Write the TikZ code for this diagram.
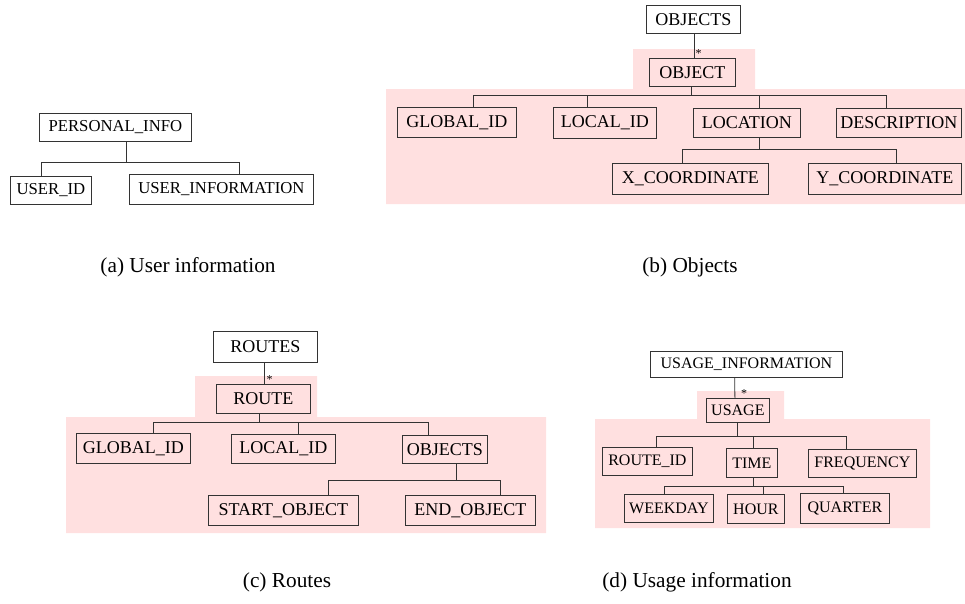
\documentclass[tikz,border=0pt]{standalone}
\usepackage{fontspec}
\setmainfont{Liberation Serif}
\usetikzlibrary{positioning}
\definecolor{schemapink}{RGB}{255,224,224}
\begin{document}
\begin{tikzpicture}[x=1pt,y=-1pt]
\tikzset{
  elem/.style={draw=black!80, line width=0.8pt, inner sep=1pt, anchor=north west},
  link/.style={draw=black!80, line width=0.8pt},
  fa/.style={font=\fontsize{16.7}{18}\selectfont},
  fb/.style={font=\fontsize{18}{20}\selectfont},
  fd/.style={font=\fontsize{16}{18}\selectfont},
  star/.style={font=\fontsize{12}{12}\selectfont, inner sep=0pt},
  caption/.style={font=\fontsize{21.3}{23}\selectfont}
}
\useasboundingbox (0,0) rectangle (965,603);
% pink groups
\fill[schemapink] (633,49) rectangle (755,90) (386,89) rectangle (965,204);
\fill[schemapink] (195,376) rectangle (317,417) (66,417) rectangle (546,533);
\fill[schemapink] (697,391) rectangle (784,420) (595,419) rectangle (930,528);

% (a) user information
\node[elem,fa,minimum width=152,minimum height=28] (pinfo) at (39,113) {PERSONAL\_INFO};
\node[elem,fa,minimum width=81,minimum height=28] (uid) at (10,176) {USER\_ID};
\node[elem,fa,minimum width=184,minimum height=30] (uinfo) at (129,174) {USER\_INFORMATION};
\coordinate (abus) at (0,162);
\draw[link] ([xshift=11]pinfo.south) -- ([xshift=11]pinfo.south |- abus);
\draw[link] ([xshift=-10]uid.north) |- ([xshift=18]uinfo.north |- abus) -- ([xshift=18]uinfo.north);
\node[caption] (capa) at (188,267) {(a) User information};

% (b) objects
\node[elem,fb,minimum width=94,minimum height=28] (objs) at (646,5) {OBJECTS};
\node[elem,fb,minimum width=86,minimum height=28] (obj) at (649,58) {OBJECT};
\draw[link] ([xshift=1]objs.south) -- ([xshift=2]obj.north);
\node[star,anchor=south west] at ([xshift=3]obj.north) {*};
\node[elem,fb,minimum width=119,minimum height=30] (gid) at (397,107) {GLOBAL\_ID};
\node[elem,fb,minimum width=103,minimum height=31] (lid) at (553,107) {LOCAL\_ID};
\node[elem,fb,minimum width=107,minimum height=29] (loc) at (693,108) {LOCATION};
\node[elem,fb,minimum width=125,minimum height=29] (desc) at (836,108) {DESCRIPTION};
\node[elem,fb,minimum width=156,minimum height=31] (xco) at (612,163) {X\_COORDINATE};
\node[elem,fb,minimum width=153,minimum height=31] (yco) at (808,163) {Y\_COORDINATE};
\coordinate (bbus) at (0,95);
\coordinate (lbus) at (0,149);
\draw[link] ([xshift=-1]obj.south) -- ([xshift=-1]obj.south |- bbus);
\draw[link] ([xshift=16.5]gid.north) |- ([xshift=-12.5]desc.north |- bbus) -- ([xshift=-12.5]desc.north);
\draw[link] ([xshift=-18]lid.north) -- ([xshift=-18]lid.north |- bbus);
\draw[link] ([xshift=12.5]loc.north) -- ([xshift=12.5]loc.north |- bbus);
\draw[link] ([xshift=12.5]loc.south) -- ([xshift=12.5]loc.south |- lbus);
\draw[link] ([xshift=-8]xco.north) |- ([xshift=11.5]yco.north |- lbus) -- ([xshift=11.5]yco.north);
\node[caption] (capb) at (690,267) {(b) Objects};

% (c) routes
\node[elem,fb,minimum width=104,minimum height=31] (routes) at (213,331) {ROUTES};
\node[elem,fb,minimum width=94,minimum height=29] (route) at (216,384) {ROUTE};
\draw[link] ([xshift=-1]routes.south) -- ([xshift=1]route.north);
\node[star,anchor=south west] at ([xshift=3]route.north) {*};
\node[elem,fb,minimum width=114,minimum height=30] (cgid) at (76,433) {GLOBAL\_ID};
\node[elem,fb,minimum width=104,minimum height=29] (clid) at (231,434) {LOCAL\_ID};
\node[elem,fb,minimum width=85,minimum height=28] (cobjs) at (402,435) {OBJECTS};
\node[elem,fb,minimum width=150,minimum height=30] (start) at (208,495) {START\_OBJECT};
\node[elem,fb,minimum width=130,minimum height=30] (end) at (405,495) {END\_OBJECT};
\coordinate (cbus) at (0,422);
\coordinate (obus) at (0,480);
\draw[link] ([xshift=-4]route.south) -- ([xshift=-4]route.south |- cbus);
\draw[link] ([xshift=19.5]cgid.north) |- ([xshift=-17]cobjs.north |- cbus) -- ([xshift=-17]cobjs.north);
\draw[link] ([xshift=15]clid.north) -- ([xshift=15]clid.north |- cbus);
\draw[link] ([xshift=11]cobjs.south) -- ([xshift=11]cobjs.south |- obus);
\draw[link] ([xshift=45]start.north) |- ([xshift=30]end.north |- obus) -- ([xshift=30]end.north);
\node[caption] (capc) at (287,582) {(c) Routes};

% (d) usage information
\node[elem,fd,minimum width=192,minimum height=26] (uinf) at (650,351) {USAGE\_INFORMATION};
\node[elem,fd,minimum width=63,minimum height=24] (usage) at (706,398) {USAGE};
\draw[link] ([xshift=-11.7]uinf.south) -- ([xshift=-3]usage.north);
\node[star,anchor=south west] at ([xshift=3]usage.north) {*};
\node[elem,fd,minimum width=90,minimum height=28] (rid) at (602,447) {ROUTE\_ID};
\node[elem,fd,minimum width=51,minimum height=29] (time) at (726,448) {TIME};
\node[elem,fd,minimum width=108,minimum height=28] (freq) at (808,449) {FREQUENCY};
\node[elem,fd,minimum width=89,minimum height=28] (wday) at (624,494) {WEEKDAY};
\node[elem,fd,minimum width=57,minimum height=29] (hour) at (727,494) {HOUR};
\node[elem,fd,minimum width=89,minimum height=30] (quart) at (800,493) {QUARTER};
\coordinate (dbus) at (0,436);
\coordinate (tbus) at (0,486);
\draw[link] ([xshift=-1]usage.south) -- ([xshift=-1]usage.south |- dbus);
\draw[link] ([xshift=8.7]rid.north) |- ([xshift=-16]freq.north |- dbus) -- ([xshift=-16]freq.north);
\draw[link] ([xshift=1]time.north) -- ([xshift=1]time.north |- dbus);
\draw[link] ([xshift=1]time.south) -- ([xshift=1]time.south |- tbus);
\draw[link] ([xshift=-5]wday.north) |- ([xshift=-2]quart.north |- tbus) -- ([xshift=-2]quart.north);
\draw[link] ([xshift=7]hour.north) -- ([xshift=7]hour.north |- tbus);
\node[caption] (capd) at (697,582) {(d) Usage information};
\end{tikzpicture}
\end{document}
